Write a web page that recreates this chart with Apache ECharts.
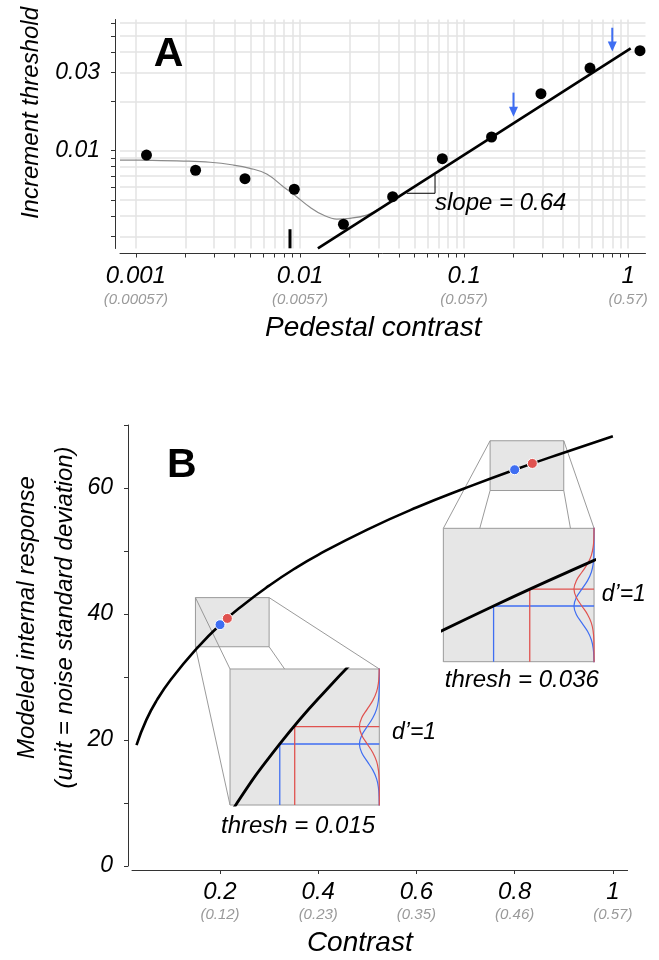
<!DOCTYPE html>
<html><head><meta charset="utf-8">
<script src="https://cdn.jsdelivr.net/npm/echarts@6/dist/echarts.min.js"></script>
<style>html,body{margin:0;padding:0;background:#fff}#c{width:659px;height:960px}</style>
</head><body><div id="c"></div>
<script>
// ================= Panel A data =================
const pedestalContrast   = [0.00116, 0.00231, 0.00462, 0.00923, 0.0184, 0.0367, 0.0737, 0.147, 0.294, 0.585, 1.18];
const incrementThreshold = [0.00941, 0.00760, 0.00675, 0.00582, 0.00356, 0.00524, 0.00894, 0.01212, 0.02226, 0.03193, 0.04073];
const modelCurveX = [0.0008, 0.00122, 0.00195, 0.00283, 0.00392, 0.00496, 0.00627, 0.00791, 0.00954, 0.01151, 0.01387, 0.01674, 0.02017, 0.0255, 0.03073];
const modelCurveY = [0.00877, 0.00874, 0.00865, 0.0085, 0.00818, 0.00781, 0.00721, 0.00603, 0.00524, 0.00452, 0.00405, 0.00383, 0.00387, 0.00405, 0.00445];
const fitLineX = [0.01285, 1.036];
const fitLineY = [0.00254, 0.04211];
const slopeTriangleX = [0.0447, 0.0665, 0.0665];
const slopeTriangleY = [0.0055, 0.0055, 0.00711];
const slopeLabel = 'slope = 0.64';
const arrowX    = [0.2, 0.8];
const arrowTopY = [0.0226, 0.0562];
const arrowTipY = [0.0161, 0.0402];
const detectMarkX = [0.00869, 0.00869];
const detectMarkY = [0.00254, 0.00332];
const aXTicks = [0.001,0.002,0.003,0.004,0.005,0.006,0.007,0.008,0.009,
                 0.01,0.02,0.03,0.04,0.05,0.06,0.07,0.08,0.09,
                 0.1,0.2,0.3,0.4,0.5,0.6,0.7,0.8,0.9,1];
const aXLabelValues = [0.001, 0.01, 0.1, 1];
const aXLabels      = ['0.001', '0.01', '0.1', '1'];
const aXSubLabels   = ['(0.00057)', '(0.0057)', '(0.057)', '(0.57)'];
const aYTicks = [0.003,0.004,0.005,0.006,0.007,0.008,0.009,0.01,0.02,0.03,0.04,0.05,0.06];
const aYLabelValues = [0.01, 0.03];
const aYLabels      = ['0.01', '0.03'];
const aXRange = [0.0008, 1.275];
const aYRange = [0.002533, 0.0631];

// ================= Panel B data =================
const contrastX  = [0.03, 0.05, 0.072, 0.1, 0.15, 0.2, 0.25, 0.3, 0.35, 0.4, 0.5, 0.6, 0.7, 0.8, 0.9, 1.0];
const responseY  = [19.2, 23.2, 26.4, 29.6, 34.3, 38.3, 41.6, 44.5, 47.1, 49.4, 53.4, 56.9, 60.0, 62.9, 65.6, 68.2];
const pedestalB     = [0.2, 0.8];
const pedestalResp  = [38.3, 62.9];
const thresholds    = [0.015, 0.036];
const incrementResp = [39.3, 63.9];
const threshLabels  = ['thresh = 0.015', 'thresh = 0.036'];
const dprimeLabel   = 'd\u2019=1';
const zoomX0 = [0.15, 0.75], zoomX1 = [0.30, 0.90];
const zoomY0 = [34.8, 59.6], zoomY1 = [42.6, 67.5];
const insetX0 = [0.2204, 0.6548], insetX1 = [0.5244, 0.9617];
const insetY0 = [9.68, 32.43],    insetY1 = [31.27, 53.6];
const noiseSD = 1;
const gaussZ = [-8, -4, -3.5, -3, -2.5, -2, -1.5, -1, -0.5, 0, 0.5, 1, 1.5, 2, 2.5, 3, 3.5, 4, 8];
const gaussH = [0, 0.0003, 0.0022, 0.0111, 0.0439, 0.1353, 0.3247, 0.6065, 0.8825, 1, 0.8825, 0.6065, 0.3247, 0.1353, 0.0439, 0.0111, 0.0022, 0.0003, 0];
const gaussWidth = 0.02;
const bXTicks = [0.2, 0.4, 0.6, 0.8, 1];
const bXLabels = ['0.2', '0.4', '0.6', '0.8', '1'];
const bXSubLabels = ['(0.12)', '(0.23)', '(0.35)', '(0.46)', '(0.57)'];
const bYTicks = [0, 10, 20, 30, 40, 50, 60, 70];
const bYLabelValues = [0, 20, 40, 60];
const bXRange = [0.0208, 1.030];
const bYRange = [0, 70];

// ================= styling =================
const FONT = '"Liberation Sans", Arial, Helvetica, sans-serif';
const BLUE = '#3f6ef2', RED = '#e0524f';
const AXIS = '#333';
const L10 = Math.log10;
const nearest = (vals, v, f) => { let b = 0, d = Infinity; vals.forEach((t, i) => { const e = Math.abs(f(t) - v); if (e < d) { d = e; b = i; } }); return b; };
const id = t => t;
const tickRich = {
  a: {fontSize: 24, fontStyle: 'italic', color: '#000', lineHeight: 26, fontFamily: FONT},
  b: {fontSize: 15, fontStyle: 'italic', color: '#9a9a9a', lineHeight: 20, fontFamily: FONT}
};
const nameStyle = (size, extra) => Object.assign({fontSize: size, fontStyle: 'italic', color: '#000', fontFamily: FONT}, extra || {});

function textItem(x, y, text, opts) {
  return {value: [x, y], itemStyle: {opacity: 0},
          label: Object.assign({show: true, formatter: text, fontFamily: FONT, color: '#000', opacity: 1, fontSize: 24, fontStyle: 'italic', position: 'inside'}, opts || {})};
}

function buildOption(insetRects) {
  const grid = [
    {left: 120, top: 19.5, width: 525.5, height: 229, containLabel: false, outerBoundsMode: 'none'},
    {left: 132, top: 425, width: 495.6, height: 441, containLabel: false, outerBoundsMode: 'none'}
  ];
  const xAxis = [
    {gridIndex: 0, type: 'value', min: L10(aXRange[0]), max: L10(aXRange[1]), offset: 5,
     axisLine: {show: true, onZero: false, lineStyle: {color: AXIS, width: 1}},
     axisTick: {show: true, customValues: aXTicks.map(L10), length: 4, lineStyle: {color: AXIS}},
     splitLine: {show: true, lineStyle: {color: '#e3e3e3', width: 1.5}},
     axisLabel: {customValues: aXLabelValues.map(L10), margin: 10,
       formatter: v => { const i = nearest(aXLabelValues, v, L10); return '{a|' + aXLabels[i] + '}\n{b|' + aXSubLabels[i] + '}'; },
       rich: tickRich},
     name: 'Pedestal contrast', nameLocation: 'middle', nameGap: 61,
     nameTextStyle: nameStyle(28, {padding: [0, 19, 0, 0]})},
    {gridIndex: 1, type: 'value', min: bXRange[0], max: bXRange[1], offset: 4,
     axisLine: {show: true, onZero: false, lineStyle: {color: AXIS, width: 1}},
     axisTick: {show: true, customValues: bXTicks, length: 4, lineStyle: {color: AXIS}},
     splitLine: {show: false},
     axisLabel: {customValues: bXTicks, margin: 9,
       formatter: v => { const i = nearest(bXTicks, v, id); return '{a|' + bXLabels[i] + '}\n{b|' + bXSubLabels[i] + '}'; },
       rich: tickRich},
     name: 'Contrast', nameLocation: 'middle', nameGap: 59,
     nameTextStyle: nameStyle(28, {padding: [0, 40, 0, 0]})}
  ];
  const yAxis = [
    {gridIndex: 0, type: 'value', min: L10(aYRange[0]), max: L10(aYRange[1]), offset: 5,
     axisLine: {show: true, onZero: false, lineStyle: {color: AXIS, width: 1}},
     axisTick: {show: true, customValues: aYTicks.map(L10), length: 4, lineStyle: {color: AXIS}},
     splitLine: {show: true, lineStyle: {color: '#e3e3e3', width: 1.5}},
     axisLabel: {customValues: aYLabelValues.map(L10), margin: 15,
       formatter: v => aYLabels[nearest(aYLabelValues, v, L10)],
       fontSize: 23, fontStyle: 'italic', color: '#000', fontFamily: FONT},
     name: 'Increment threshold', nameLocation: 'middle', nameGap: 72,
     nameTextStyle: nameStyle(24, {padding: [0, 0, 0, 42]})},
    {gridIndex: 1, type: 'value', min: bYRange[0], max: bYRange[1], offset: 4,
     axisLine: {show: true, onZero: false, lineStyle: {color: AXIS, width: 1}},
     axisTick: {show: true, customValues: bYTicks, length: 4, lineStyle: {color: AXIS}},
     splitLine: {show: false},
     axisLabel: {customValues: bYLabelValues, margin: 15,
       fontSize: 23, fontStyle: 'italic', color: '#000', fontFamily: FONT},
     name: 'Modeled internal response\n(unit = noise standard deviation)', nameLocation: 'middle', nameGap: 44,
     nameMoveOverlap: false,
     nameTextStyle: nameStyle(24, {lineHeight: 38, padding: [0, 0, 0, 56]})}
  ];

  const series = [
    // ---------- Panel A ----------
    {type: 'line', xAxisIndex: 0, yAxisIndex: 0, z: 2, symbol: 'none', smooth: 0.4,
     data: modelCurveX.map((x, i) => [L10(x), L10(modelCurveY[i])]),
     lineStyle: {color: '#8a8a8a', width: 1.2}},
    {type: 'line', xAxisIndex: 0, yAxisIndex: 0, z: 3, symbol: 'none',
     data: fitLineX.map((x, i) => [L10(x), L10(fitLineY[i])]),
     lineStyle: {color: '#000', width: 2.6}},
    {type: 'line', xAxisIndex: 0, yAxisIndex: 0, z: 3, symbol: 'none',
     data: slopeTriangleX.map((x, i) => [L10(x), L10(slopeTriangleY[i])]),
     lineStyle: {color: '#000', width: 1}},
    {type: 'line', xAxisIndex: 0, yAxisIndex: 0, z: 3, symbol: 'none',
     data: detectMarkX.map((x, i) => [L10(x), L10(detectMarkY[i])]),
     lineStyle: {color: '#000', width: 3}},
    {type: 'scatter', xAxisIndex: 0, yAxisIndex: 0, z: 4, symbolSize: 11,
     data: pedestalContrast.map((x, i) => [L10(x), L10(incrementThreshold[i])]),
     itemStyle: {color: '#000', opacity: 1}},
    {type: 'custom', xAxisIndex: 0, yAxisIndex: 0, z: 4,
     data: arrowX.map((x, i) => [L10(x), L10(arrowTopY[i]), L10(arrowTipY[i])]),
     renderItem: (params, api) => {
       const top = api.coord([api.value(0), api.value(1)]);
       const tip = api.coord([api.value(0), api.value(2)]);
       const head = 10, half = 4.5;
       return {type: 'group', children: [
         {type: 'line', shape: {x1: top[0], y1: top[1], x2: tip[0], y2: tip[1] - head + 1}, style: {stroke: BLUE, lineWidth: 2}},
         {type: 'polygon', shape: {points: [[tip[0] - half, tip[1] - head], [tip[0] + half, tip[1] - head], [tip[0], tip[1]]]}, style: {fill: BLUE}}
       ]};
     }},
    {type: 'scatter', xAxisIndex: 0, yAxisIndex: 0, z: 5, symbolSize: 0, silent: true,
     data: [
       textItem(L10(0.00158), L10(0.0387), 'A', {fontSize: 41, fontWeight: 'bold', fontStyle: 'normal'}),
       textItem(L10(0.0665), L10(0.00478), slopeLabel, {position: 'right', distance: 0, fontSize: 24})
     ]},

    // ---------- Panel B ----------
    {type: 'custom', xAxisIndex: 1, yAxisIndex: 1, z: 1,
     data: zoomX0.map((x, i) => [zoomX0[i], zoomY0[i], zoomX1[i], zoomY1[i]]),
     renderItem: (params, api) => {
       const a = api.coord([api.value(0), api.value(3)]);
       const b = api.coord([api.value(2), api.value(1)]);
       return {type: 'rect', shape: {x: a[0], y: a[1], width: b[0] - a[0], height: b[1] - a[1]},
               style: {fill: '#e6e6e6', stroke: '#9a9a9a', lineWidth: 1}};
     }},
    {type: 'custom', xAxisIndex: 1, yAxisIndex: 1, z: 2,
     data: zoomX0.map((x, i) => [zoomX0[i], zoomY0[i], zoomX1[i], zoomY1[i], insetX0[i], insetY0[i], insetX1[i], insetY1[i]]),
     renderItem: (params, api) => {
       const v = k => api.value(k);
       const pairs = [
         [[v(0), v(3)], [v(4), v(7)]], [[v(2), v(3)], [v(6), v(7)]],
         [[v(0), v(1)], [v(4), v(5)]], [[v(2), v(1)], [v(6), v(5)]]
       ];
       return {type: 'group', children: pairs.map(p => {
         const s = api.coord(p[0]), e = api.coord(p[1]);
         return {type: 'line', shape: {x1: s[0], y1: s[1], x2: e[0], y2: e[1]}, style: {stroke: '#8f8f8f', lineWidth: 0.9}};
       })};
     }},
    {type: 'custom', xAxisIndex: 1, yAxisIndex: 1, z: 3,
     data: insetX0.map((x, i) => [insetX0[i], insetY0[i], insetX1[i], insetY1[i]]),
     renderItem: (params, api) => {
       const a = api.coord([api.value(0), api.value(3)]);
       const b = api.coord([api.value(2), api.value(1)]);
       return {type: 'rect', shape: {x: a[0], y: a[1], width: b[0] - a[0], height: b[1] - a[1]},
               style: {fill: '#e6e6e6', stroke: '#9a9a9a', lineWidth: 1}};
     }},
    {type: 'line', xAxisIndex: 1, yAxisIndex: 1, z: 4, symbol: 'none', smooth: 0.5,
     data: contrastX.map((x, i) => [x, responseY[i]]),
     lineStyle: {color: '#000', width: 2.6}},
    {type: 'scatter', xAxisIndex: 1, yAxisIndex: 1, z: 5, symbolSize: 10,
     data: pedestalB.map((x, i) => [x, pedestalResp[i]]),
     itemStyle: {color: BLUE, borderColor: '#fff', borderWidth: 1, opacity: 1}},
    {type: 'scatter', xAxisIndex: 1, yAxisIndex: 1, z: 5, symbolSize: 10,
     data: pedestalB.map((x, i) => [x + thresholds[i], incrementResp[i]]),
     itemStyle: {color: RED, borderColor: '#fff', borderWidth: 1, opacity: 1}},
    {type: 'scatter', xAxisIndex: 1, yAxisIndex: 1, z: 5, symbolSize: 0, silent: true,
     data: [
       textItem(0.122, 63.5, 'B', {fontSize: 41, fontWeight: 'bold', fontStyle: 'normal'}),
       textItem(0.3589, 6.24, threshLabels[0]),
       textItem(0.8145, 29.5, threshLabels[1]),
       textItem(0.5503, 21.1, dprimeLabel, {position: 'right', distance: 0, fontSize: 23}),
       textItem(0.9774, 43.1, dprimeLabel, {position: 'right', distance: 0, fontSize: 23})
     ]}
  ];

  if (insetRects) {
    insetRects.forEach((r, i) => {
      const gi = 2 + i;
      grid.push({left: r.left, top: r.top, width: r.width, height: r.height, containLabel: false, outerBoundsMode: 'none'});
      xAxis.push({gridIndex: gi, type: 'value', min: zoomX0[i], max: zoomX1[i], show: false, splitLine: {show: false}});
      yAxis.push({gridIndex: gi, type: 'value', min: zoomY0[i], max: zoomY1[i], show: false, splitLine: {show: false}});
      const redX = pedestalB[i] + thresholds[i];
      const base = {type: 'line', xAxisIndex: gi, yAxisIndex: gi, z: 6, symbol: 'none', clip: true};
      series.push(
        Object.assign({}, base, {smooth: 0.5, data: contrastX.map((x, k) => [x, responseY[k]]), lineStyle: {color: '#000', width: 2.8}, z: 7}),
        Object.assign({}, base, {data: [[zoomX1[i], pedestalResp[i]], [pedestalB[i], pedestalResp[i]], [pedestalB[i], zoomY0[i]]], lineStyle: {color: BLUE, width: 1.3}}),
        Object.assign({}, base, {data: [[zoomX1[i], incrementResp[i]], [redX, incrementResp[i]], [redX, zoomY0[i]]], lineStyle: {color: RED, width: 1.3}}),
        Object.assign({}, base, {smooth: 0.4, data: gaussZ.map((z, k) => [zoomX1[i] - gaussWidth * gaussH[k], pedestalResp[i] + z * noiseSD]), lineStyle: {color: BLUE, width: 1.2}}),
        Object.assign({}, base, {smooth: 0.4, data: gaussZ.map((z, k) => [zoomX1[i] - gaussWidth * gaussH[k], incrementResp[i] + z * noiseSD]), lineStyle: {color: RED, width: 1.2}})
      );
    });
  }

  return {animation: false, backgroundColor: '#fff', textStyle: {fontFamily: FONT}, grid, xAxis, yAxis, series};
}

const chart = echarts.init(document.getElementById('c'), null, {renderer: 'canvas', width: 659, height: 960});
chart.setOption(buildOption(null));
const rects = insetX0.map((x, i) => {
  const a = chart.convertToPixel({gridIndex: 1}, [insetX0[i], insetY1[i]]);
  const b = chart.convertToPixel({gridIndex: 1}, [insetX1[i], insetY0[i]]);
  return {left: a[0], top: a[1], width: b[0] - a[0], height: b[1] - a[1]};
});
chart.setOption(buildOption(rects), {notMerge: true});
</script>
</body></html>
